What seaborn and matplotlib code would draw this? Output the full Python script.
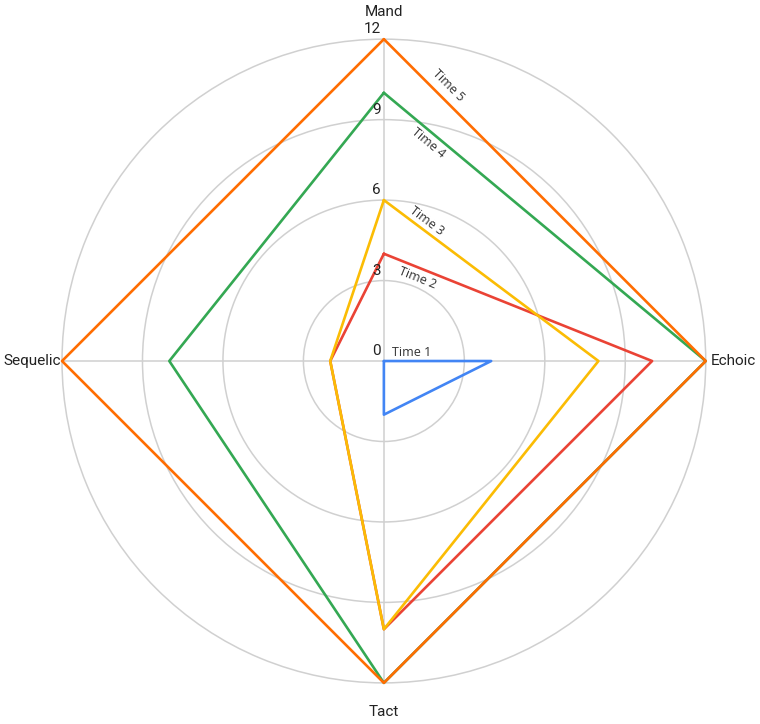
import numpy as np
import pandas as pd
import seaborn as sns
import matplotlib.pyplot as plt

# radar chart values
skills = ['Mand', 'Echoic', 'Tact', 'Sequelic']
times = ['Time 1', 'Time 2', 'Time 3', 'Time 4', 'Time 5']
time1 = [0, 4, 2, 0]
time2 = [4, 10, 10, 2]
time3 = [6, 8, 10, 2]
time4 = [10, 12, 12, 8]
time5 = [12, 12, 12, 12]
ticks = [0, 3, 6, 9, 12]

colors = ['#4285F4', '#EA4335', '#FBBC04', '#34A853', '#FF6D01']

# long table, closing each polygon back on Mand
angles = np.deg2rad(np.arange(len(skills)) * 90)
rows = []
for name, vals in zip(times, [time1, time2, time3, time4, time5]):
    for i in range(len(skills) + 1):
        k = i % len(skills)
        rows.append({'time': name, 'theta': angles[k] + (2 * np.pi if i == len(skills) else 0),
                     'score': vals[k]})
df = pd.DataFrame(rows)

sns.set_theme(style='white')
plt.rcParams['font.family'] = ['Roboto', 'DejaVu Sans']

fig = plt.figure(figsize=(7.6, 7.24), dpi=100)
ax = fig.add_axes([0.0816, 0.0566, 0.847, 0.8895], projection='polar')
ax.set_theta_zero_location('N')
ax.set_theta_direction(-1)

sns.lineplot(data=df, x='theta', y='score', hue='time', palette=colors,
             sort=False, estimator=None, linewidth=1.9, legend=False, ax=ax)
for line in ax.get_lines():
    line.set_clip_on(False)

ax.set_ylim(0, 12)
ax.set_yticks(ticks[1:])
ax.set_yticklabels([])
ax.set_xticks(angles)
ax.set_xticklabels([])
ax.set_xlabel('')
ax.set_ylabel('')
ax.grid(True, color='#d0d0d0', linewidth=1.1)
for g in ax.yaxis.get_gridlines():
    g.set_clip_on(False)
ax.spines['polar'].set_visible(False)
ax.set_facecolor('white')

# radial tick labels, just left of the Mand spoke
for t in ticks:
    ax.annotate(str(t), xy=(0, t), xytext=(-3, 3), textcoords='offset pixels',
                ha='right', va='bottom', fontsize=11, color='#222222')

# category labels
cat_offsets = [((0, 27), 'center', 'center'), ((5, 0), 'left', 'center'),
               ((0, -29), 'center', 'center'), ((-1, 0), 'right', 'center')]
for ang, name, (off, ha, va) in zip(angles, skills, cat_offsets):
    ax.annotate(name, xy=(ang, 12), xytext=off, textcoords='offset pixels',
                ha=ha, va=va, fontsize=11, color='#222222', annotation_clip=False)

# series labels along the Mand -> Echoic segment
fig.canvas.draw()
label_offsets = [(28, 9), (34, -24), (43, -21), (44, -50), (64, -46)]
for name, vals, off in zip(times, [time1, time2, time3, time4, time5], label_offsets):
    p0 = ax.transData.transform((angles[0], vals[0]))
    p1 = ax.transData.transform((angles[1], vals[1]))
    rot = np.degrees(np.arctan2(p1[1] - p0[1], p1[0] - p0[0]))
    ax.annotate(name, xy=(angles[0], vals[0]), xytext=off, textcoords='offset pixels',
                ha='center', va='center', rotation=rot, rotation_mode='anchor',
                fontsize=9, color='#333333', family=['Open Sans', 'DejaVu Sans'])

fig.savefig('out.png', dpi=100, facecolor='white')
